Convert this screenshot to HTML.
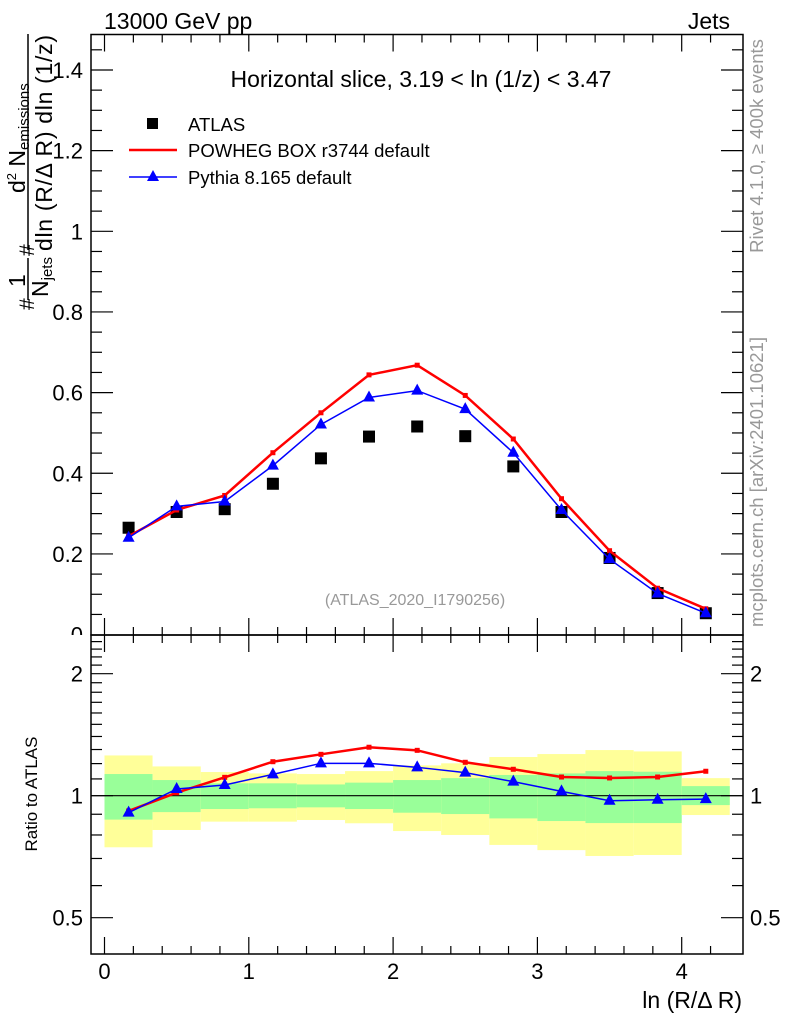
<!DOCTYPE html>
<html><head><meta charset="utf-8"><style>
body{margin:0;background:#fff}
svg{display:block;font-family:"Liberation Sans",sans-serif}
</style></head><body>
<svg id="c" width="786" height="1024" viewBox="0 0 786 1024">
<defs><clipPath id="mainclip"><rect x="0" y="0" width="786" height="635"/></clipPath></defs>
<g id="bands"></g>
<g id="plot"></g>
<g id="axes"></g>
<text x="104" y="29" font-size="23">13000 GeV pp</text>
<text x="730" y="29" font-size="23" text-anchor="end">Jets</text>
<text x="421" y="87" font-size="23" text-anchor="middle">Horizontal slice, 3.19 &lt; ln (1/z) &lt; 3.47</text>
<g>
<rect x="147" y="118" width="11" height="11" fill="#000"/>
<text x="188" y="131" font-size="18.5">ATLAS</text>
<line x1="129" y1="150" x2="177" y2="150" stroke="red" stroke-width="2.5"/>
<text x="188" y="157" font-size="18.5">POWHEG BOX r3744 default</text>
<line x1="129" y1="177" x2="177" y2="177" stroke="#00f" stroke-width="1.5"/>
<polygon points="153,170 147,181 159,181" fill="#00f"/>
<text x="188" y="184" font-size="18.5">Pythia 8.165 default</text>
</g>
<text x="415" y="605" font-size="16" fill="#999" text-anchor="middle">(ATLAS_2020_I1790256)</text>
<text transform="translate(763,146) rotate(-90)" font-size="18.5" fill="#999" text-anchor="middle">Rivet 4.1.0, ≥ 400k events</text>
<text transform="translate(763,482) rotate(-90)" font-size="18.5" fill="#999" text-anchor="middle">mcplots.cern.ch [arXiv:2401.10621]</text>
<g font-size="23">
<text transform="translate(34,310) rotate(-90)" font-size="21">#</text>
<text transform="translate(25,287) rotate(-90)">1</text>
<line x1="28" y1="258" x2="28" y2="300" stroke="#000" stroke-width="1.5"/>
<text transform="translate(48,297) rotate(-90)">N<tspan font-size="15" dy="4">jets</tspan></text>
<text transform="translate(34,256) rotate(-90)" font-size="21">#</text>
<line x1="28" y1="34" x2="28" y2="250" stroke="#000" stroke-width="1.5"/>
<text transform="translate(25,193) rotate(-90)">d<tspan font-size="13" dy="-9">2</tspan><tspan dy="9"> N</tspan><tspan font-size="15" dy="4">emissions</tspan></text>
<text transform="translate(52,251) rotate(-90)" textLength="216">dln (R/Δ R) dln (1/z)</text>
</g>
<text transform="translate(37,794) rotate(-90)" font-size="17" text-anchor="middle">Ratio to ATLAS</text>
<text x="742" y="1008" font-size="23" text-anchor="end">ln (R/Δ R)</text>
</svg>
<script>
const xCenters=[0.167,0.5,0.833,1.167,1.5,1.833,2.167,2.5,2.833,3.167,3.5,3.833,4.167];
const binEdges=[0,0.333,0.667,1,1.333,1.667,2,2.333,2.667,3,3.333,3.667,4,4.333];
const atlas=[0.265,0.304,0.311,0.374,0.437,0.491,0.516,0.492,0.417,0.304,0.190,0.103,0.053];
const powheg=[0.244,0.309,0.345,0.451,0.550,0.644,0.668,0.593,0.485,0.337,0.208,0.115,0.064];
const pythia=[0.240,0.318,0.330,0.419,0.521,0.588,0.605,0.559,0.451,0.309,0.187,0.102,0.053];
const ratioPowheg=[0.917,1.017,1.110,1.213,1.265,1.317,1.294,1.209,1.162,1.112,1.106,1.112,1.149];
const ratioPythia=[0.908,1.039,1.063,1.129,1.202,1.202,1.175,1.140,1.083,1.025,0.972,0.977,0.981];
const yellowHi=[1.257,1.181,1.144,1.135,1.131,1.150,1.188,1.202,1.246,1.267,1.296,1.286,1.105];
const greenHi=[1.131,1.093,1.073,1.073,1.066,1.077,1.093,1.105,1.125,1.135,1.150,1.146,1.056];
const greenLo=[0.873,0.911,0.927,0.931,0.936,0.927,0.908,0.901,0.879,0.866,0.856,0.856,0.948];
const yellowLo=[0.746,0.823,0.863,0.863,0.871,0.855,0.818,0.800,0.756,0.734,0.710,0.714,0.896];
const xTicks=[0,1,2,3,4];
const mainTicks=[0,0.2,0.4,0.6,0.8,1,1.2,1.4];
const mainTickLabels=["0","0.2","0.4","0.6","0.8","1","1.2","1.4"];
const ratioTicks=[0.5,1,2];
const ratioTickLabels=["0.5","1","2"];

const NS="http://www.w3.org/2000/svg";
const L=91,R=743,T=34.5,MB=635,RB=954;
const X=v=>104.5+v*144.3;
const Y=v=>634.6-v*403.3;
const YR=v=>795.7-Math.log2(v)*122;
function mk(tag,attrs,parent){const e=document.createElementNS(NS,tag);for(const k in attrs)e.setAttribute(k,attrs[k]);document.getElementById(parent).appendChild(e);return e;}

for(let i=0;i<xCenters.length;i++){
  const x0=X(binEdges[i]),x1=X(binEdges[i+1]);
  let e=mk('rect',{x:x0,y:YR(yellowHi[i]),width:x1-x0,height:YR(yellowLo[i])-YR(yellowHi[i]),fill:'#ffff99'},'bands');
  
  
  e=mk('rect',{x:x0,y:YR(greenHi[i]),width:x1-x0,height:YR(greenLo[i])-YR(greenHi[i]),fill:'#99ff99'},'bands');
  
  
}
let ref=mk('line',{x1:L,x2:R,y1:YR(1),y2:YR(1),stroke:'#000','stroke-width':1.2},'plot');



function series(vals,yf,color,w,name,tri){
  const pts=xCenters.map((x,i)=>X(x)+','+yf(vals[i])).join(' ');
  const pl=mk('polyline',{points:pts,fill:'none',stroke:color,'stroke-width':w},'plot');
  
  
  xCenters.forEach((x,i)=>{
    const cx=X(x),cy=yf(vals[i]);let m;
    if(tri){m=mk('polygon',{points:`${cx},${cy-7} ${cx-6},${cy+4} ${cx+6},${cy+4}`,fill:color},'plot');}
    else{m=mk('rect',{x:cx-2.5,y:cy-2.5,width:5,height:5,fill:color},'plot');}
    
    
  });
}
xCenters.forEach((x,i)=>{
  const m=mk('rect',{x:X(x)-6,y:Y(atlas[i])-6,width:12,height:12,fill:'#000'},'plot');
  
  
});
series(powheg,Y,'red',2.5,'powheg',false);
series(pythia,Y,'#00f',1.5,'pythia',true);
series(ratioPowheg,YR,'red',2.5,'ratio-powheg',false);
series(ratioPythia,YR,'#00f',1.5,'ratio-pythia',true);

[[T,MB],[MB,RB]].forEach(([a,b],k)=>{
  const f=mk('rect',{x:L,y:a,width:R-L,height:b-a,fill:'none',stroke:'#000','stroke-width':1.5},'axes');
  
  
});
function tick(x1,y1,x2,y2){mk('line',{x1,y1,x2,y2,stroke:'#000','stroke-width':1.2},'axes');}
for(let v=0;v<=4.4;v+=0.2){
  const major=Math.abs(v-Math.round(v))<1e-6;const len=major?17:8;const x=X(v);
  [T,MB].forEach(y=>tick(x,y,x,y+len));
  [MB,RB].forEach(y=>tick(x,y,x,y-len));
}
xTicks.forEach(v=>{const t=mk('text',{x:X(v),y:979,'font-size':22,'text-anchor':'middle'},'axes');t.textContent=v;
  
  });
for(let v=0.05;v<1.49;v+=0.05){
  const major=Math.abs(v*5-Math.round(v*5))<1e-6;const len=major?22:11;const y=Y(v);
  tick(L,y,L+len,y);tick(R,y,R-len,y);
}
mainTicks.forEach((v,i)=>{const t=mk('text',{x:83,y:Y(v)+8,'font-size':22,'text-anchor':'end','clip-path':'url(#mainclip)'},'axes');t.textContent=mainTickLabels[i];
  
  });
const minor=[];for(let v=0.5;v<=2.45;v+=0.1)minor.push(+v.toFixed(1));
minor.forEach(v=>{const y=YR(v);if(y<MB||y>RB)return;const major=ratioTicks.includes(v);const len=major?22:11;
  tick(L,y,L+len,y);tick(R,y,R-len,y);});
ratioTicks.forEach((v,i)=>{
  let t=mk('text',{x:83,y:YR(v)+8,'font-size':22,'text-anchor':'end'},'axes');t.textContent=ratioTickLabels[i];
  
  
  t=mk('text',{x:750,y:YR(v)+8,'font-size':22},'axes');t.textContent=ratioTickLabels[i];
  
  
});
</script>
</body></html>
